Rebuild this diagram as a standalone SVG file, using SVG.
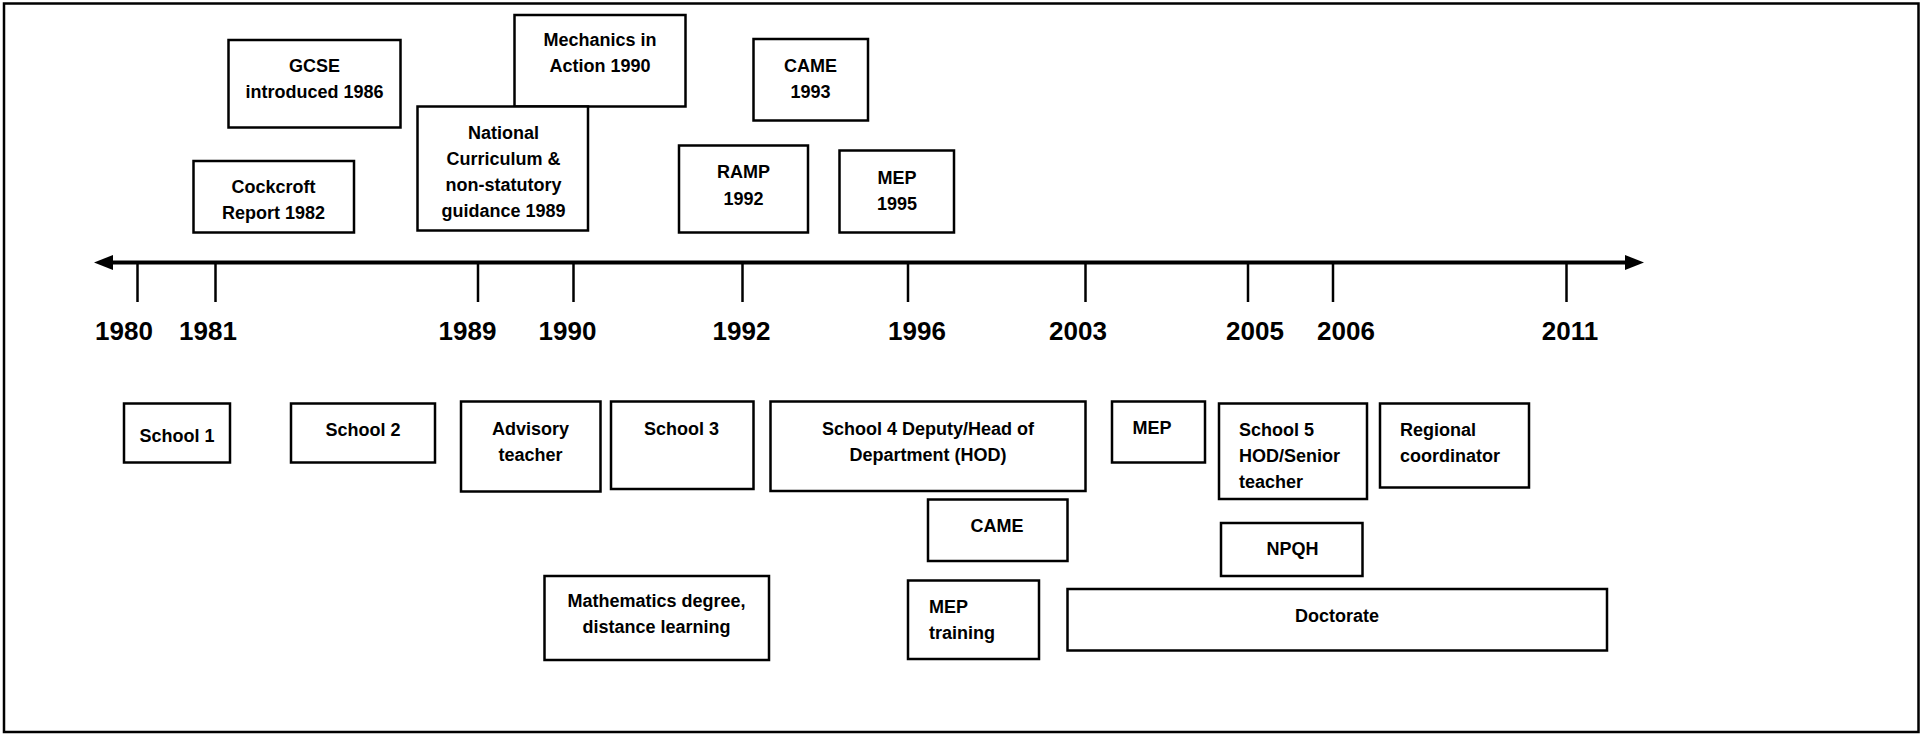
<svg xmlns="http://www.w3.org/2000/svg" width="1921" height="734" viewBox="0 0 1921 734">
<style>
.box{fill:#fff;stroke:#000;stroke-width:2.5}
.t{font-family:"Liberation Sans",Arial,sans-serif;font-weight:bold;font-size:18px;fill:#000;text-anchor:middle}
.l{text-anchor:start}
.yr{font-family:"Liberation Sans",Arial,sans-serif;font-weight:bold;font-size:26px;fill:#000;text-anchor:middle}
.axis{stroke:#000;stroke-width:4;fill:none}
.tick{stroke:#000;stroke-width:2.5}
</style>
<defs>
<marker id="ah" markerUnits="userSpaceOnUse" markerWidth="22" markerHeight="18" refX="1" refY="7.5" orient="auto-start-reverse">
<path d="M0,0 L19,7.5 L0,15 z" fill="#000"/>
</marker>
</defs>
<rect x="4" y="3.5" width="1914.5" height="728.5" fill="#fff" stroke="#000" stroke-width="2.5"/>

<g id="connectors">
<line class="axis" x1="112" y1="262.5" x2="1626" y2="262.5" marker-start="url(#ah)" marker-end="url(#ah)"/>
<line class="tick" x1="137.5" y1="263" x2="137.5" y2="302"/>
<line class="tick" x1="215.5" y1="263" x2="215.5" y2="302"/>
<line class="tick" x1="478" y1="263" x2="478" y2="302"/>
<line class="tick" x1="573.5" y1="263" x2="573.5" y2="302"/>
<line class="tick" x1="742.5" y1="263" x2="742.5" y2="302"/>
<line class="tick" x1="908" y1="263" x2="908" y2="302"/>
<line class="tick" x1="1085.5" y1="263" x2="1085.5" y2="302"/>
<line class="tick" x1="1248" y1="263" x2="1248" y2="302"/>
<line class="tick" x1="1333" y1="263" x2="1333" y2="302"/>
<line class="tick" x1="1566.5" y1="263" x2="1566.5" y2="302"/>
</g>

<g id="years">
<text class="yr" x="124" y="340">1980</text>
<text class="yr" x="208" y="340">1981</text>
<text class="yr" x="467.5" y="340">1989</text>
<text class="yr" x="567.5" y="340">1990</text>
<text class="yr" x="741.5" y="340">1992</text>
<text class="yr" x="917" y="340">1996</text>
<text class="yr" x="1078" y="340">2003</text>
<text class="yr" x="1255" y="340">2005</text>
<text class="yr" x="1346" y="340">2006</text>
<text class="yr" x="1570" y="340">2011</text>
</g>

<g id="gcse">
<rect class="box" x="228.5" y="40" width="172" height="87.5"/>
<text class="t" x="314.5" y="72">GCSE</text>
<text class="t" x="314.5" y="98">introduced 1986</text>
</g>
<g id="cockcroft">
<rect class="box" x="193.5" y="161" width="160.5" height="71.5"/>
<text class="t" x="273.5" y="193">Cockcroft</text>
<text class="t" x="273.5" y="219">Report 1982</text>
</g>
<g id="mechanics">
<rect class="box" x="514.5" y="15" width="171" height="91.5"/>
<text class="t" x="600" y="46">Mechanics in</text>
<text class="t" x="600" y="72">Action 1990</text>
</g>
<g id="national">
<rect class="box" x="417.5" y="106.5" width="170.5" height="124"/>
<text class="t" x="503.5" y="139">National</text>
<text class="t" x="503.5" y="165">Curriculum &amp;</text>
<text class="t" x="503.5" y="191">non-statutory</text>
<text class="t" x="503.5" y="217">guidance 1989</text>
</g>
<g id="came1993">
<rect class="box" x="753.5" y="39" width="114.5" height="81.5"/>
<text class="t" x="810.5" y="72">CAME</text>
<text class="t" x="810.5" y="98">1993</text>
</g>
<g id="ramp">
<rect class="box" x="679" y="145.5" width="129" height="87"/>
<text class="t" x="743.5" y="178">RAMP</text>
<text class="t" x="743.5" y="205">1992</text>
</g>
<g id="mep1995">
<rect class="box" x="839.5" y="150.5" width="114.5" height="82"/>
<text class="t" x="897" y="184">MEP</text>
<text class="t" x="897" y="210">1995</text>
</g>

<g id="school1">
<rect class="box" x="124" y="403.5" width="106" height="59"/>
<text class="t" x="177" y="441.5">School 1</text>
</g>
<g id="school2">
<rect class="box" x="291" y="403.5" width="144" height="59"/>
<text class="t" x="363" y="435.5">School 2</text>
</g>
<g id="advisory">
<rect class="box" x="461" y="401.5" width="139.5" height="90"/>
<text class="t" x="530.5" y="434.5">Advisory</text>
<text class="t" x="530.5" y="460.5">teacher</text>
</g>
<g id="school3">
<rect class="box" x="611" y="401.5" width="142.5" height="87.5"/>
<text class="t" x="681.5" y="434.5">School 3</text>
</g>
<g id="school4">
<rect class="box" x="770.5" y="401.5" width="315" height="89.5"/>
<text class="t" x="928" y="434.5">School 4 Deputy/Head of</text>
<text class="t" x="928" y="460.5">Department (HOD)</text>
</g>
<g id="mep">
<rect class="box" x="1112" y="401.5" width="93" height="61"/>
<text class="t" x="1152" y="434">MEP</text>
</g>
<g id="school5">
<rect class="box" x="1219" y="403.5" width="148" height="95.5"/>
<text class="t l" x="1239" y="435.5">School 5</text>
<text class="t l" x="1239" y="461.5">HOD/Senior</text>
<text class="t l" x="1239" y="487.5">teacher</text>
</g>
<g id="regional">
<rect class="box" x="1380" y="403.5" width="149" height="84"/>
<text class="t l" x="1400" y="435.5">Regional</text>
<text class="t l" x="1400" y="461.5">coordinator</text>
</g>
<g id="came">
<rect class="box" x="928" y="499.5" width="139.5" height="61.5"/>
<text class="t" x="997" y="531.5">CAME</text>
</g>
<g id="npqh">
<rect class="box" x="1221" y="523" width="141.5" height="53"/>
<text class="t" x="1292.5" y="555">NPQH</text>
</g>
<g id="mathdegree">
<rect class="box" x="544.5" y="576" width="224.5" height="84"/>
<text class="t" x="656.5" y="606.5">Mathematics degree,</text>
<text class="t" x="656.5" y="633">distance learning</text>
</g>
<g id="meptraining">
<rect class="box" x="908" y="580.5" width="131" height="78.5"/>
<text class="t l" x="929" y="612.5">MEP</text>
<text class="t l" x="929" y="639">training</text>
</g>
<g id="doctorate">
<rect class="box" x="1067.5" y="589" width="539.5" height="61.5"/>
<text class="t" x="1337" y="621.5">Doctorate</text>
</g>
</svg>
